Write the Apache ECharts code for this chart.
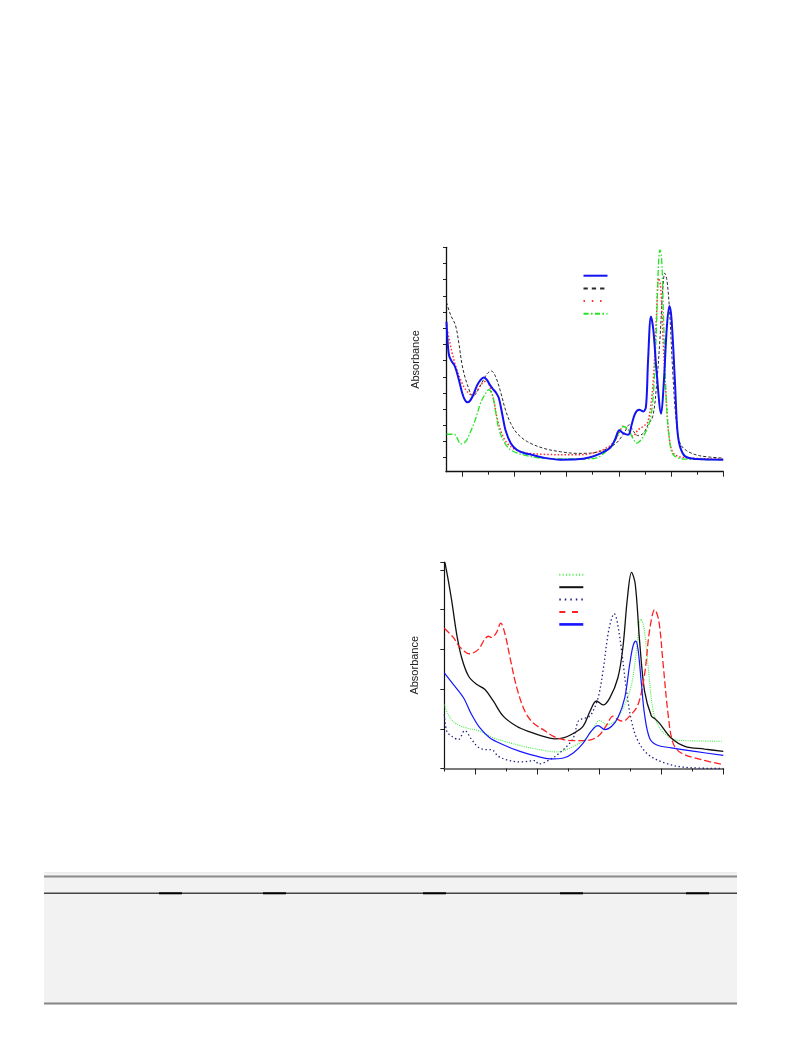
<!DOCTYPE html>
<html><head><meta charset="utf-8">
<script src="https://cdn.jsdelivr.net/npm/echarts@6/dist/echarts.min.js"></script>
<style>html,body{margin:0;padding:0;background:#fff}#c{width:793px;height:1057px}</style>
</head><body><div id="c"></div>
<script>
// ---------- Chart 1 (upper spectra): [wavelength nm, absorbance] ----------
const c1Blue = [[270,0.94],[272,0.82],[275,0.73],[280,0.695],[286,0.665],[293,0.59],[300,0.50],[305,0.458],[310,0.442],[315,0.452],[320,0.48],[329,0.55],[335,0.58],[341,0.596],[347,0.583],[353,0.55],[360,0.52],[364,0.505],[370,0.47],[377,0.364],[383,0.27],[393,0.19],[405,0.148],[420,0.128],[431,0.12],[456,0.10],[488,0.088],[520,0.09],[545,0.103],[564,0.125],[583,0.16],[592.5,0.211],[601,0.269],[608,0.252],[618,0.242],[624.5,0.304],[631,0.372],[639,0.396],[647,0.386],[652,0.417],[656,0.705],[661.5,0.973],[666,0.89],[672,0.643],[681,0.372],[686,0.561],[692,0.911],[697,1.038],[701,0.952],[707.5,0.561],[712,0.273],[717,0.17],[727,0.108],[749,0.092],[800,0.088]];
const c1Black = [[270,1.06],[278,0.98],[287,0.92],[294,0.80],[300,0.67],[310,0.55],[321,0.48],[329,0.51],[338,0.565],[348,0.62],[356,0.635],[364,0.60],[373.5,0.507],[383,0.394],[393,0.312],[405,0.251],[425,0.199],[456,0.158],[488,0.137],[520,0.127],[545,0.128],[570,0.145],[585,0.168],[595,0.19],[603,0.22],[612,0.263],[620,0.304],[628,0.263],[637,0.236],[647,0.252],[656,0.304],[665,0.356],[672,0.541],[679,0.849],[684,1.137],[688,1.24],[692,1.199],[697,1.014],[703,0.643],[709,0.356],[717,0.191],[730,0.143],[755,0.112],[800,0.098]];
const c1Red = [[270,0.92],[274.5,0.84],[281,0.744],[290,0.641],[300,0.559],[310,0.507],[319,0.487],[329,0.518],[338,0.559],[347,0.575],[354,0.528],[361,0.446],[367,0.343],[377,0.24],[389.5,0.178],[412,0.137],[456,0.121],[520,0.118],[545,0.125],[570,0.15],[589,0.191],[602,0.263],[608,0.294],[618,0.273],[627,0.232],[637,0.273],[647,0.294],[656,0.325],[665,0.541],[672,0.973],[676,1.209],[680,1.158],[685,0.808],[692,0.396],[698,0.191],[707,0.119],[736,0.098],[800,0.092]];
const c1Green = [[270,0.245],[280,0.245],[287,0.24],[292,0.21],[297,0.185],[306.5,0.199],[316,0.261],[326,0.343],[335,0.436],[345,0.498],[351,0.52],[358,0.487],[364,0.384],[370,0.281],[380,0.199],[393,0.148],[418,0.117],[456,0.096],[520,0.092],[552,0.095],[583,0.16],[592,0.2],[600,0.255],[609,0.293],[618,0.272],[627,0.22],[634,0.19],[647,0.232],[660,0.335],[667,0.541],[672,0.911],[676,1.302],[678.7,1.384],[682,1.322],[686,0.911],[691,0.438],[697,0.211],[704,0.119],[723,0.092],[800,0.088]];
const c1MinorTicks = [350,450,550,650,750];
const c1MajorTicks = [300,400,500,600,700,800];
const c1YTicks = [0.1,0.2,0.3,0.4,0.5,0.6,0.7,0.8,0.9,1.0,1.1,1.2,1.3,1.4];

// ---------- Chart 2 (lower spectra) ----------
const c2Green = [[350,0.161],[356.5,0.136],[367,0.115],[386,0.102],[407.5,0.094],[429,0.077],[450.5,0.067],[477,0.056],[504,0.0475],[531,0.0417],[547,0.0475],[563,0.06],[577,0.073],[587,0.094],[601,0.1207],[612,0.1106],[625,0.119],[641,0.161],[652,0.2117],[660,0.296],[667,0.376],[672,0.355],[679,0.254],[687,0.144],[697.5,0.102],[711,0.081],[727,0.071],[800,0.0687]];
const c2Black = [[351,0.519],[356.5,0.473],[362,0.422],[370,0.338],[378,0.279],[389,0.233],[402,0.212],[415.6,0.199],[429,0.17],[445,0.132],[466.6,0.1065],[488,0.092],[509.5,0.081],[528,0.0745],[542,0.077],[558,0.088],[574,0.1065],[585,0.144],[595.5,0.17],[606,0.16],[617,0.178],[630,0.2285],[638,0.304],[645.4,0.43],[652,0.494],[658,0.464],[665,0.321],[673,0.195],[684,0.132],[690,0.125],[697.5,0.113],[716,0.077],[738,0.056],[770,0.049],[800,0.043]];
const c2Navy = [[350,0.136],[354,0.094],[362,0.081],[372.6,0.073],[383,0.0955],[394,0.073],[405,0.0535],[418,0.0475],[426,0.0475],[437,0.031],[450.5,0.022],[472,0.0164],[497,0.02],[501.5,0.0114],[520,0.022],[542,0.0475],[558,0.077],[566,0.119],[574,0.126],[580,0.128],[587,0.136],[598,0.178],[606,0.2455],[614,0.338],[619.6,0.376],[624,0.39],[628.6,0.372],[636,0.296],[644,0.195],[652,0.119],[662.5,0.069],[679,0.035],[705.5,0.014],[738,0.003],[800,0.0]];
const c2Red = [[350,0.353],[364.5,0.33],[375,0.306],[391,0.289],[405,0.30],[415,0.325],[421,0.333],[426,0.33],[434,0.342],[441,0.366],[448,0.338],[456,0.279],[467,0.203],[480,0.144],[493,0.115],[509.5,0.098],[526,0.081],[542,0.073],[558,0.07],[577,0.07],[598,0.081],[612,0.11],[622,0.132],[630,0.123],[638,0.119],[649,0.132],[662.5,0.161],[673,0.237],[681,0.3465],[689.4,0.4],[696,0.372],[703,0.262],[711,0.136],[719,0.064],[732,0.039],[765,0.022],[800,0.0096]];
const c2Blue = [[350,0.241],[364.5,0.212],[381,0.178],[394,0.136],[407.5,0.102],[423.6,0.077],[445,0.06],[472,0.043],[499,0.031],[520,0.024],[542,0.0265],[558,0.039],[574,0.064],[587,0.094],[598,0.108],[609,0.098],[620,0.1065],[630,0.1275],[641,0.178],[649,0.262],[654.4,0.3085],[658.8,0.321],[662.5,0.30],[668,0.212],[673,0.136],[681,0.077],[692,0.06],[716,0.052],[754,0.043],[800,0.033]];
const c2MinorTicks = [350,450,550,650,750];
const c2MajorTicks = [400,500,600,700,800];

const yName = 'Absorbance';
const names1 = ['s1-1','s1-2','s1-3','s1-4'];
const names2 = ['s2-1','s2-2','s2-3','s2-4','s2-5'];

const chart = echarts.init(document.getElementById('c'), null, {renderer:'canvas'});
const FONT = '"Liberation Sans", Arial, sans-serif';

function line(name, data, color, width, type, xi, yi, z) {
  return {type:'line', name, data, xAxisIndex:xi, yAxisIndex:yi, symbol:'none', smooth:0.35,
    lineStyle:{color, width, type}, itemStyle:{color}, z: z||2, silent:true};
}
function xAxisPair(grid, min, max, minor, major, lineColor, lineWidth, majorLen) {
  return [
    {type:'value', gridIndex:grid, min, max, position:'bottom', offset:0,
     axisLine:{show:true, onZero:false, lineStyle:{color:lineColor, width:lineWidth}},
     axisTick:{show:true, inside:false, length:3, customValues:minor, lineStyle:{color:'#222', width:1}},
     axisLabel:{show:false}, splitLine:{show:false}},
    {type:'value', gridIndex:grid, min, max, position:'bottom', offset:0,
     axisLine:{show:false, onZero:false},
     axisTick:{show:true, inside:false, length:majorLen, customValues:major, lineStyle:{color:'#222', width:1}},
     axisLabel:{show:false}, splitLine:{show:false}}
  ];
}
const hiddenSymbol = {color:'rgba(0,0,0,0)', borderWidth:0, opacity:0};

const option = {
  animation:false,
  backgroundColor:'#fff',
  grid:[
    {left:446, top:247.3, width:277.3, height:224.4},
    {left:444.3, top:562, width:279, height:206.5}
  ],
  xAxis:[].concat(
    xAxisPair(0, 269, 800, c1MinorTicks, c1MajorTicks, '#111', 1.3, 5),
    xAxisPair(1, 350, 800, c2MinorTicks, c2MajorTicks, '#7a7a7a', 2, 6)
  ),
  yAxis:[
    {type:'value', gridIndex:0, min:0.0136, max:1.4, name:yName, nameLocation:'middle', nameGap:25, nameRotate:90,
     nameTextStyle:{fontFamily:FONT, fontSize:11, color:'#222'},
     axisLine:{show:true, onZero:false, lineStyle:{color:'#111', width:1.3}},
     axisTick:{show:true, length:3, customValues:c1YTicks, lineStyle:{color:'#222'}},
     axisLabel:{show:false}, splitLine:{show:false}},
    {type:'value', gridIndex:1, min:0, max:0.52, interval:0.1, name:yName, nameLocation:'middle', nameGap:23.5, nameRotate:90,
     nameTextStyle:{fontFamily:FONT, fontSize:11, color:'#222'},
     axisLine:{show:true, onZero:false, lineStyle:{color:'#111', width:1.2}},
     axisTick:{show:true, length:4, lineStyle:{color:'#222'}},
     axisLabel:{show:false}, splitLine:{show:false}}
  ],
  legend:[
    {orient:'vertical', left:582.5, top:271.7, padding:0, itemWidth:24, itemHeight:8, itemGap:5.5,
     data:[names1[0],
           {name:names1[1], lineStyle:{type:[4.3,4]}},
           {name:names1[2], lineStyle:{type:[1.5,6.8]}},
           {name:names1[3], lineStyle:{type:[5,2.5,1.5,2.5]}}],
     formatter:()=> '', textStyle:{fontSize:1}, selectedMode:false, itemStyle:hiddenSymbol},
    {orient:'vertical', left:558, top:570.8, padding:0, itemWidth:24, itemHeight:8, itemGap:5.2,
     data:[{name:names2[0], lineStyle:{type:[1,2.3]}},
           names2[1],
           {name:names2[2], lineStyle:{type:[1.5,4]}},
           {name:names2[3], lineStyle:{type:[6,6.7]}},
           {name:names2[4], lineStyle:{width:2.6}}],
     formatter:()=> '', textStyle:{fontSize:1}, selectedMode:false, itemStyle:hiddenSymbol}
  ],
  series:[
    line(names1[1], c1Black, '#2a2a2a', 1, [3,2], 0, 0, 2),
    line(names1[2], c1Red, '#ff2d2d', 1.5, [1.5,2], 0, 0, 3),
    line(names1[3], c1Green, '#22e622', 1.3, [6,2,1.5,2], 0, 0, 4),
    line(names1[0], c1Blue, '#1212f2', 2, 'solid', 0, 0, 5),
    line(names2[0], c2Green, '#3cee3c', 1.1, [1,1.2], 2, 1, 2),
    line(names2[1], c2Black, '#111111', 1.3, 'solid', 2, 1, 3),
    line(names2[2], c2Navy, '#1f1f80', 1.3, [1.4,2.6], 2, 1, 4),
    line(names2[3], c2Red, '#ff2020', 1.3, [7,3], 2, 1, 5),
    line(names2[4], c2Blue, '#1515ff', 1.2, 'solid', 2, 1, 6)
  ],
  graphic:[
    {type:'rect', shape:{x:44, y:872, width:693, height:132}, style:{fill:'#f2f2f2'}, silent:true},
    {type:'line', shape:{x1:44, y1:872.5, x2:737, y2:872.5}, style:{stroke:'#ebebeb', lineWidth:1}},
    {type:'line', shape:{x1:44, y1:876.5, x2:737, y2:876.5}, style:{stroke:'#8a8a8a', lineWidth:2}},
    {type:'line', shape:{x1:44, y1:893.3, x2:737, y2:893.3}, style:{stroke:'#444', lineWidth:1.5}},
    {type:'line', shape:{x1:159, y1:893.3, x2:182, y2:893.3}, style:{stroke:'#000', lineWidth:2}},
    {type:'line', shape:{x1:263, y1:893.3, x2:286, y2:893.3}, style:{stroke:'#000', lineWidth:2}},
    {type:'line', shape:{x1:423, y1:893.3, x2:446, y2:893.3}, style:{stroke:'#000', lineWidth:2}},
    {type:'line', shape:{x1:560, y1:893.3, x2:583, y2:893.3}, style:{stroke:'#000', lineWidth:2}},
    {type:'line', shape:{x1:686, y1:893.3, x2:709, y2:893.3}, style:{stroke:'#000', lineWidth:2}},
    {type:'line', shape:{x1:44, y1:1003.5, x2:737, y2:1003.5}, style:{stroke:'#858585', lineWidth:2}}
  ]
};
chart.setOption(option);
</script></body></html>
